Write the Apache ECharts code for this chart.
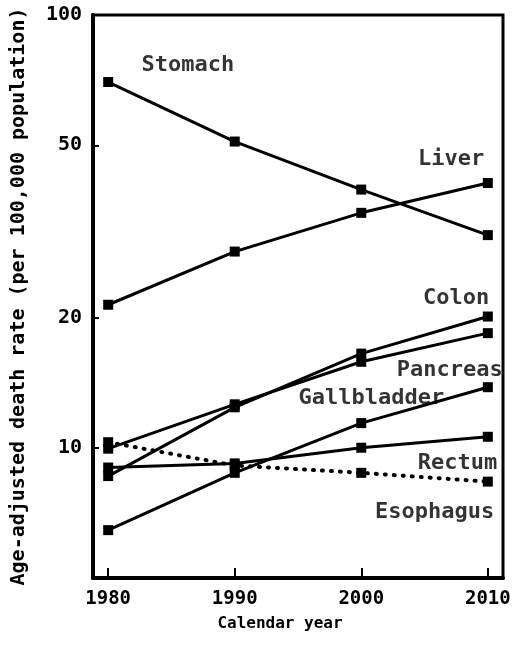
<!DOCTYPE html>
<html><head><meta charset="UTF-8">
<title>Age-adjusted death rate</title>
<script src="https://cdn.jsdelivr.net/npm/echarts@6/dist/echarts.min.js"></script>
</head>
<body style="margin:0;background:#fff">
<div id="g1" style="width:515px;height:648px;"></div>
<script type="text/javascript">
// data (per 100,000 population)
var years = [1980, 1990, 2000, 2010];
var yTicks = [10, 20, 50, 100];
var stomach = [70, 51, 39.5, 31];
var liver = [21.4, 28.4, 34.9, 40.9];
var colon = [8.6, 12.4, 16.5, 20.1];
var pancreas = [9.95, 12.6, 15.8, 18.4];
var gallbladder = [6.45, 8.75, 11.4, 13.8];
var rectum = [9.0, 9.2, 10.0, 10.6];
var esophagus = [10.3, 9.1, 8.75, 8.35];

var FONT = 'DejaVu Sans Mono';

function pairs(vals) {
    var out = [];
    for (var i = 0; i < years.length; i++) out.push([years[i], vals[i]]);
    return out;
}

function lineSeries(name, vals, dotted) {
    return {
        name: name, type: 'line', data: pairs(vals),
        symbol: 'rect', symbolSize: 10,
        itemStyle: { color: '#000' },
        lineStyle: dotted ? { color: '#000', width: 4, type: [1, 8], cap: 'round' }
                          : { color: '#000', width: 3 },
        z: 3
    };
}

// where the names sit, in data units [year, rate]
var nameSpots = [
    ['Stomach', 1986.3, 76.6],
    ['Liver', 2007.1, 46.3],
    ['Colon', 2007.5, 22.2],
    ['Pancreas', 2007.0, 15.1],
    ['Gallbladder', 2000.8, 13.0],
    ['Rectum', 2007.6, 9.19],
    ['Esophagus', 2005.8, 7.11]
];

var option = {
    backgroundColor: '#fff',
    animation: false,
    grid: { left: 93, right: 12, top: 15, bottom: 70, show: true, borderColor: '#000', borderWidth: 3 },
    xAxis: {
        type: 'value', min: 1978.8, max: 2011.2,
        name: 'Calendar year', nameLocation: 'middle', nameGap: 38,
        nameTextStyle: { fontFamily: FONT, fontSize: 16, fontWeight: 'bold', color: '#000', padding: [0, 36, 0, 0] },
        axisLine: { lineStyle: { color: '#000', width: 4 } },
        axisTick: { inside: true, length: 10, lineStyle: { width: 2, color: '#000' }, customValues: years },
        axisLabel: {
            customValues: years, margin: 12, fontFamily: FONT, fontSize: 19, fontWeight: 'bold', color: '#000',
            formatter: function (v) { return String(v); }
        },
        splitLine: { show: false }
    },
    yAxis: {
        type: 'log', logBase: 10, min: 5, max: 100,
        name: 'Age-adjusted death rate (per 100,000 population)', nameLocation: 'middle', nameGap: 64,
        nameTextStyle: { fontFamily: FONT, fontSize: 20, fontWeight: 'bold', color: '#000' },
        axisLine: { lineStyle: { color: '#000', width: 4 } },
        axisTick: { inside: true, length: 6, lineStyle: { width: 2, color: '#000' }, customValues: yTicks },
        axisLabel: { customValues: yTicks, margin: 11, fontFamily: FONT, fontSize: 20, fontWeight: 'bold', color: '#000' },
        splitLine: { show: false }
    },
    series: [
        lineSeries('Stomach', stomach),
        lineSeries('Liver', liver),
        lineSeries('Colon', colon),
        lineSeries('Pancreas', pancreas),
        lineSeries('Gallbladder', gallbladder),
        lineSeries('Rectum', rectum),
        lineSeries('Esophagus', esophagus, true),
        {
            type: 'scatter', silent: true, symbolSize: 1, z: 5,
            itemStyle: { color: 'rgba(0,0,0,0)' },
            label: { show: true, position: 'inside', formatter: '{b}', fontFamily: FONT, fontSize: 22, fontWeight: 'bold', color: '#000' },
            data: nameSpots.map(function (s) { return { name: s[0], value: [s[1], s[2]] }; })
        }
    ]
};

var myChart = echarts.init(document.getElementById('g1'));
myChart.setOption(option);
</script>
</body></html>
